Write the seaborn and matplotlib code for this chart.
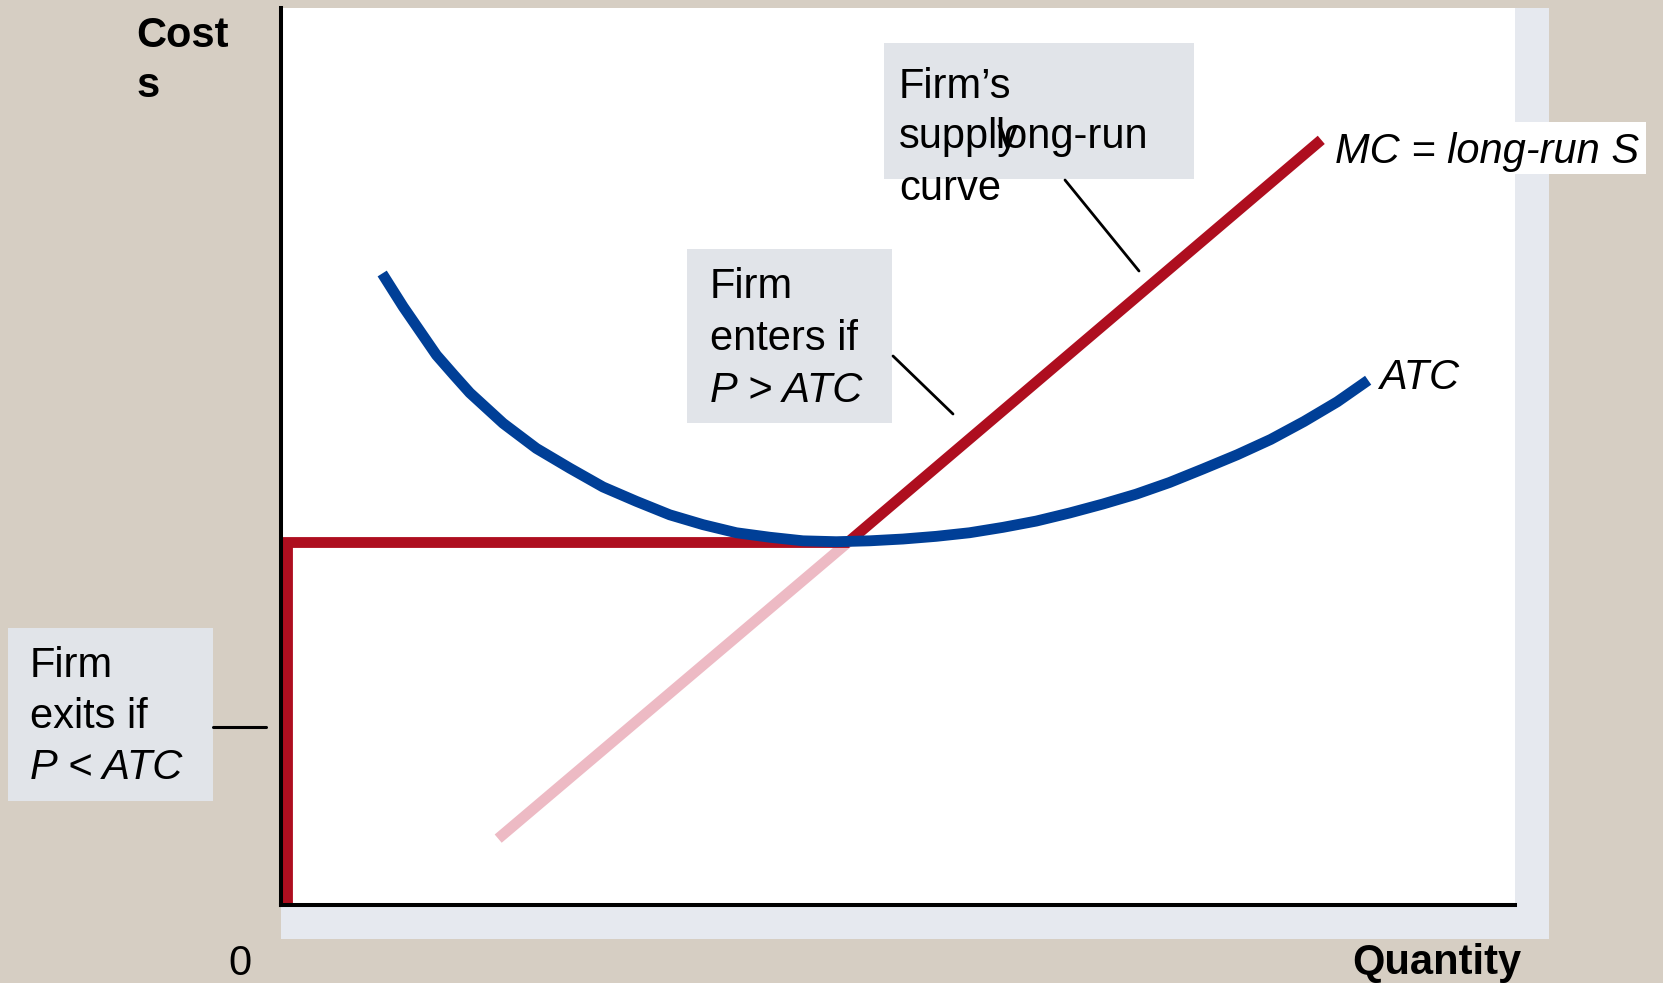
import matplotlib
matplotlib.use("Agg")
import matplotlib.pyplot as plt
import matplotlib.patches as mpatches
import seaborn as sns

# ======================
# Data (quantity / cost, both axes 0..10)
# ======================
atc_q = [0.82, 0.99, 1.13, 1.26, 1.40, 1.53, 1.80, 2.07, 2.34, 2.61,
         2.88, 3.15, 3.42, 3.69, 3.96, 4.23, 4.50, 4.77, 5.04, 5.31,
         5.58, 5.85, 6.12, 6.39, 6.66, 6.93, 7.20, 7.47, 7.75, 8.02,
         8.29, 8.56, 8.81]
atc_cost = [7.04, 6.67, 6.39, 6.13, 5.91, 5.71, 5.37, 5.09, 4.87, 4.66,
            4.50, 4.35, 4.24, 4.15, 4.10, 4.06, 4.05, 4.06, 4.08, 4.11,
            4.15, 4.21, 4.28, 4.37, 4.47, 4.58, 4.71, 4.86, 5.02, 5.19,
            5.39, 5.61, 5.85]

# MC below min ATC (faded) and above it (long-run supply)
mc_low_q = [1.76, 4.60]
mc_low_cost = [0.74, 4.05]
mc_high_q = [4.60, 8.43]
mc_high_cost = [4.05, 8.53]

# exit part of the long-run supply: vertical at ~0 then flat at min ATC
exit_q = [0.05, 0.05, 4.60]
exit_cost = [0.0, 4.05, 4.05]

# colours
TAN = "#D6CEC3"
SHADOW = "#E6E9EF"
BOX = "#E1E4E9"
RED = "#AE0E1F"
BLUE = "#003F97"
PINK = "#EDBAC4"

sns.set_style("white")
plt.rcParams["font.family"] = ["Liberation Sans", "DejaVu Sans"]

W, H = 1663, 983
fig = plt.figure(figsize=(W / 100, H / 100), dpi=100, facecolor=TAN)

# background layer (pixel coords): shadow panel behind the plot
bg = fig.add_axes([0, 0, 1, 1], zorder=-1)
bg.set_xlim(0, W)
bg.set_ylim(H, 0)
bg.axis("off")
bg.add_patch(mpatches.Rectangle((281, 8), 1549 - 281, 939 - 8, color=SHADOW, lw=0))

# ======================
# Main plot
# ======================
ax = fig.add_axes([281 / W, 1 - 905 / H, (1515 - 281) / W, (905 - 8) / H], zorder=1)
ax.set_facecolor("white")
ax.set_xlim(0, 10)
ax.set_ylim(0, 10)

line_kw = dict(sort=False, estimator=None, errorbar=None, lw=7.8,
               solid_capstyle="butt", ax=ax)
sns.lineplot(x=mc_low_q, y=mc_low_cost, color=PINK, **line_kw)
sns.lineplot(x=exit_q, y=exit_cost, color=RED, solid_joinstyle="miter", **line_kw)
sns.lineplot(x=mc_high_q, y=mc_high_cost, color=RED, **line_kw)
sns.lineplot(x=atc_q, y=atc_cost, color=BLUE, solid_joinstyle="round", **line_kw)

ax.set_xticks([])
ax.set_yticks([])
ax.set_xlabel("")
ax.set_ylabel("")
for side in ["top", "right"]:
    ax.spines[side].set_visible(False)
for side in ["left", "bottom"]:
    ax.spines[side].set_color("black")
    ax.spines[side].set_linewidth(2.9)

# ======================
# Labels & callouts (pixel coords overlay)
# ======================
ov = fig.add_axes([0, 0, 1, 1], zorder=2)
ov.set_xlim(0, W)
ov.set_ylim(H, 0)
ov.axis("off")
ov.patch.set_alpha(0)

FS = 30


def box(x0, y0, x1, y1, color=BOX):
    ov.add_patch(mpatches.Rectangle((x0, y0), x1 - x0, y1 - y0, color=color, lw=0))


def txt(x, y, s, **kw):
    ov.text(x, y, s, fontsize=FS, va="baseline", color="black", **kw)


box(884, 43, 1194, 179)
box(687, 249, 892, 423)
box(8, 628, 213, 801)
box(1330, 122, 1646, 174, color="white")

ov.plot([1065, 1139], [180, 271], color="black", lw=2)
ov.plot([893, 953], [356, 414], color="black", lw=2)
ov.plot([213, 266], [727, 727], color="black", lw=2.2)

txt(136, 47, "Cost", fontweight="bold")
txt(136, 97, "s", fontweight="bold")
txt(240, 975, "0", ha="center")
txt(1352, 974, "Quantity", fontweight="bold")

# the reference prints "long-run" over "supply"
txt(899, 98, "Firm\u2019s")
txt(899, 148, "supply")
txt(899, 200, "curve")
txt(995, 148, "long-run")

txt(710, 298, "Firm")
txt(710, 350, "enters if")
txt(710, 402, "P > ATC", style="italic")

txt(30, 677, "Firm")
txt(30, 728, "exits if")
txt(30, 779, "P < ATC", style="italic")

txt(1335, 163, "MC = long-run S", style="italic")
txt(1379, 389, "ATC", style="italic")

fig.savefig("out.png", dpi=100, facecolor=TAN)
